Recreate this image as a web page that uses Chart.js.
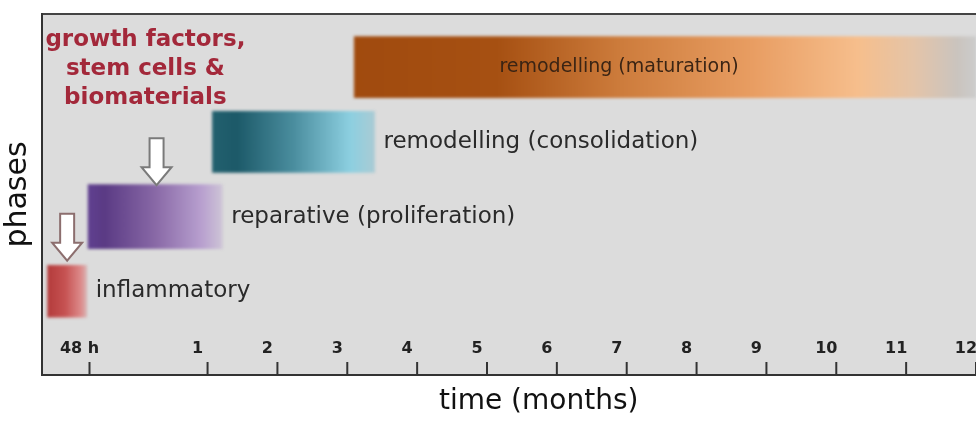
<!DOCTYPE html>
<html>
<head>
<meta charset="utf-8">
<script src="https://cdn.jsdelivr.net/npm/chart.js@4.4.0/dist/chart.umd.min.js"></script>
<style>
  html, body { margin: 0; padding: 0; background: #fff; }
  #wrap { width: 976px; height: 421px; position: relative; }
</style>
</head>
<body>
<div id="wrap"><canvas id="phaseChart"></canvas></div>
<script>
// Phases of healing, placed on a compressed time axis (48 h, then months 1-12)
const phaseNames = ['inflammatory', 'reparative (proliferation)', 'remodelling (consolidation)', 'remodelling (maturation)'];
const phaseRows = [1, 2, 3, 4];
const phaseStart = [-1.29, -0.71, 1.07, 3.10];
const phaseEnd = [-0.73, 1.21, 3.39, 12.0];

// x axis ticks (the 48 h mark sits before month 1)
const tickValues = [-0.69, 1, 2, 3, 4, 5, 6, 7, 8, 9, 10, 11, 12];
const tickLabels = ['48 h', '1', '2', '3', '4', '5', '6', '7', '8', '9', '10', '11', '12'];

// intervention arrows: [x, row where the tip sits]
const arrowX = [-1.01, 0.27];
const arrowTip = [1.41, 2.42];

const noteLines = ['growth factors,', 'stem cells &', 'biomaterials'];

// styles
const barGradients = [
    [[0, '#b33b3b'], [0.45, '#c65252'], [0.85, '#dc8a8a'], [1, '#d8b4b4']],
    [[0, '#604090'], [0.12, '#5a3a84'], [0.5, '#8868a6'], [0.85, '#b8a0cf'], [1, '#cdc4d6']],
    [[0, '#22606e'], [0.15, '#1c5968'], [0.5, '#4a8d9e'], [0.85, '#8ccfe0'], [1, '#a9cbd4']],
    [[0, '#a04a0e'], [0.23, '#a65012'], [0.43, '#cd7c3c'], [0.64, '#e89d62'], [0.81, '#f6be8c'],
     [0.9, '#e4c4a8'], [0.97, '#cac4be'], [1, '#cccccc']]
];
const barThick = [52, 64, 61, 61];
const PLOT_BG = '#dcdcdc';
const AXIS_COLOR = '#333333';
const FONT = '"DejaVu Sans", Verdana, sans-serif';

function makeGradient(chart, i) {
    const area = chart.chartArea;
    if (!area) return barGradients[i][0][1];
    const xs = chart.scales.x;
    const x0 = xs.getPixelForValue(phaseStart[i]);
    const x1 = xs.getPixelForValue(phaseEnd[i]);
    const g = chart.ctx.createLinearGradient(x0, 0, x1, 0);
    barGradients[i].forEach(([s, c]) => g.addColorStop(s, c));
    return g;
}

const datasets = phaseNames.map((name, i) => ({
    label: name,
    data: [{ x: [phaseStart[i], phaseEnd[i]], y: phaseRows[i] }],
    backgroundColor: (c) => makeGradient(c.chart, i),
    borderWidth: 0,
    borderSkipped: false,
    barThickness: barThick[i],
    grouped: false
}));

const plotBackground = {
    id: 'plotBackground',
    beforeDraw(chart) {
        const { ctx, chartArea: a } = chart;
        ctx.save();
        ctx.fillStyle = PLOT_BG;
        ctx.fillRect(a.left, a.top, a.right - a.left, a.bottom - a.top);
        // top frame line
        ctx.strokeStyle = '#444';
        ctx.lineWidth = 2;
        ctx.beginPath();
        ctx.moveTo(a.left, a.top);
        ctx.lineTo(a.right, a.top);
        ctx.stroke();
        ctx.restore();
    },
    beforeDatasetsDraw(chart) {
        chart.ctx.save();
        chart.ctx.filter = 'blur(1.5px)';
    },
    afterDatasetsDraw(chart) {
        chart.ctx.restore();
    }
};

const annotations = {
    id: 'annotations',
    afterDraw(chart) {
        const { ctx, chartArea: a } = chart;
        const xs = chart.scales.x, ys = chart.scales.y;
        ctx.save();

        // phase labels
        ctx.textBaseline = 'middle';
        phaseNames.forEach((name, i) => {
            const y = ys.getPixelForValue(phaseRows[i]);
            if (i === 3) {
                ctx.fillStyle = '#3a2414';
                ctx.textAlign = 'center';
                ctx.font = '19px ' + FONT;
                ctx.fillText(name, xs.getPixelForValue(6.89), y);
            } else {
                ctx.fillStyle = '#2a2a2a';
                ctx.textAlign = 'left';
                ctx.font = '23px ' + FONT;
                ctx.fillText(name, xs.getPixelForValue(phaseEnd[i]) + 9, y);
            }
        });

        // red note
        ctx.fillStyle = '#a3283a';
        ctx.textAlign = 'center';
        ctx.font = 'bold 23px ' + FONT;
        const nx = xs.getPixelForValue(0.11);
        const ny = ys.getPixelForValue(4.36);
        noteLines.forEach((t, k) => ctx.fillText(t, nx, ny + k * 29));

        // arrows
        ctx.lineWidth = 2;
        ctx.lineJoin = 'miter';
        arrowX.forEach((ax, k) => {
            const x = xs.getPixelForValue(ax);
            const tip = ys.getPixelForValue(arrowTip[k]);
            const len = 47, head = 18, hw = 15, sw = 7;
            ctx.beginPath();
            ctx.moveTo(x - sw, tip - len);
            ctx.lineTo(x + sw, tip - len);
            ctx.lineTo(x + sw, tip - head);
            ctx.lineTo(x + hw, tip - head);
            ctx.lineTo(x, tip);
            ctx.lineTo(x - hw, tip - head);
            ctx.lineTo(x - sw, tip - head);
            ctx.closePath();
            ctx.fillStyle = '#ffffff';
            ctx.fill();
            ctx.strokeStyle = k === 0 ? '#8c6e6e' : '#7a7a7a';
            ctx.stroke();
        });

        // x ticks drawn inward, labels above them
        ctx.strokeStyle = AXIS_COLOR;
        ctx.lineWidth = 2;
        ctx.fillStyle = '#222';
        ctx.font = 'bold 16px ' + FONT;
        ctx.textAlign = 'center';
        xs.ticks.forEach((t, k) => {
            const x = xs.getPixelForValue(t.value);
            ctx.beginPath();
            ctx.moveTo(x, a.bottom);
            ctx.lineTo(x, a.bottom - 13);
            ctx.stroke();
            ctx.fillText(tickLabels[k], x - 10, a.bottom - 26);
        });

        // x title
        ctx.fillStyle = '#111';
        ctx.font = '28px ' + FONT;
        ctx.fillText('time (months)', xs.getPixelForValue(5.74), a.bottom + 27);
        ctx.restore();
    }
};

new Chart(document.getElementById('phaseChart'), {
    type: 'bar',
    data: { datasets },
    options: {
        indexAxis: 'y',
        responsive: true,
        maintainAspectRatio: false,
        animation: false,
        layout: { padding: { top: 14, right: 0, left: 0, bottom: 0 } },
        plugins: {
            legend: { display: false },
            tooltip: { enabled: false }
        },
        scales: {
            x: {
                type: 'linear',
                min: -1.37,
                max: 12.0,
                afterBuildTicks: (s) => { s.ticks = tickValues.map(v => ({ value: v })); },
                afterFit: (s) => { s.height = 46; },
                ticks: { display: false },
                grid: { display: false },
                border: { display: true, color: AXIS_COLOR, width: 2 }
            },
            y: {
                type: 'linear',
                offset: false,
                min: -0.12,
                max: 4.71,
                afterFit: (s) => { s.width = 42; },
                ticks: { display: false },
                grid: { display: false },
                border: { display: true, color: AXIS_COLOR, width: 2 },
                title: {
                    display: true,
                    text: 'phases',
                    color: '#111',
                    font: { family: FONT, size: 30 },
                    padding: 0
                }
            }
        }
    },
    plugins: [plotBackground, annotations]
});
</script>
</body>
</html>
